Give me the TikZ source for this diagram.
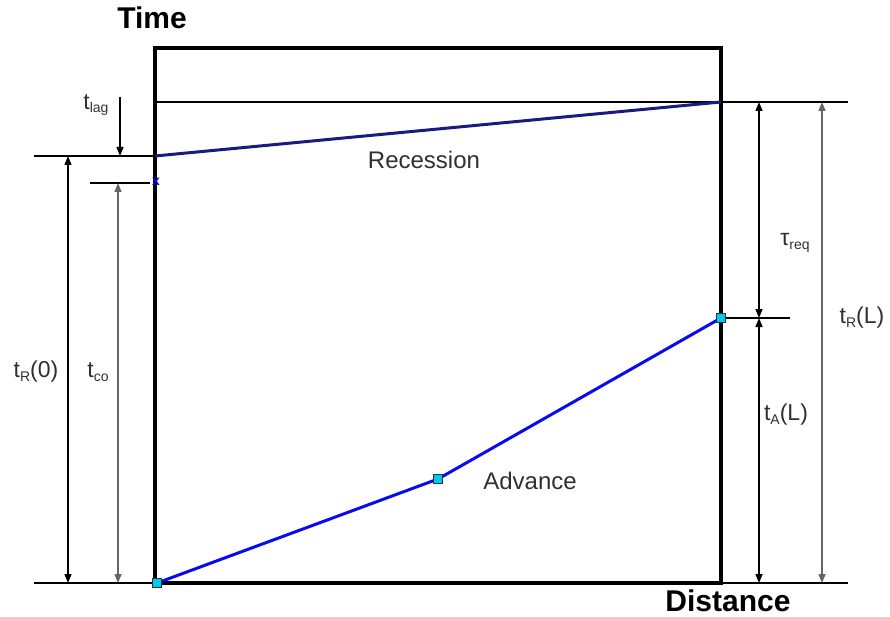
\documentclass[tikz,border=0pt]{standalone}
\usepackage{fontspec}
\setmainfont{Liberation Sans}
\usetikzlibrary{arrows.meta}
\definecolor{navyline}{HTML}{1A1A80}
\definecolor{advblue}{HTML}{0A0AF0}
\definecolor{mark}{HTML}{00C8F0}
\definecolor{lab}{HTML}{303030}
\newcommand\lsub[2]{#1\raisebox{-0.3ex}{\fontsize{14}{14}\selectfont #2}}
\begin{document}
\begin{tikzpicture}[x=1pt,y=-1pt,
  tip/.style={-{Triangle[length=9pt,width=7pt]}},
  dim/.style={line width=1.4pt,{Triangle[length=9pt,width=7pt]}-{Triangle[length=9pt,width=7pt]}},
  dimg/.style={dim,draw=black!60},
  ref/.style={line width=1.2pt},
  lbl/.style={font=\fontsize{23}{23}\selectfont,text=lab,inner sep=0pt},
  axis/.style={font=\fontsize{30}{30}\selectfont\bfseries,inner sep=0pt},
  sq/.style={draw=black!80,fill=mark,line width=0.9pt,minimum size=9pt,inner sep=0pt,rectangle}]
\useasboundingbox (0,0) rectangle (890,617);
% frame
\coordinate (TL) at (155,48);
\coordinate (BR) at (721,583);
\draw[line width=4pt] (TL) rectangle (BR);
% key points
\coordinate (rtop) at (721,102);
\coordinate (r0) at (155,156);
\coordinate (aLc) at (721,318);
\coordinate (a0c) at (157,583);
\coordinate (a1c) at (438,479);
% reference lines
\coordinate (topR) at (848,102);
\coordinate (topL) at (155,102);
\draw[ref] (topL) -- (topR);
\coordinate (lagL) at (34,156);
\draw[ref] (lagL) -- (r0);
\coordinate (coL) at (90,183);
\coordinate (coR) at (150,183);
\draw[ref] (coL) -- (coR);
\coordinate (botL) at (34,583);
\draw[ref] (botL) -- (a0c);
\coordinate (botR) at (848,583);
\draw[ref] (BR) -- (botR);
\coordinate (midR) at (790,318);
\draw[ref] (aLc) -- (midR);
% recession and advance
\draw[navyline,line width=3pt] (r0) -- (rtop);
\draw[advblue,line width=3pt] (a0c) -- (a1c) -- (aLc);
\node[sq] (a0) at (a0c) {};
\node[sq] (a1) at (a1c) {};
\node[sq] (aL) at (aLc) {};
\node[text=blue,font=\fontsize{14}{14}\selectfont\bfseries,inner sep=0pt] (cox) at (156,182) {x};
% dimension arrows
\coordinate (lagA) at (120,97);
\coordinate (lagB) at (120,156);
\draw[line width=1.4pt,tip] (lagA) -- (lagB);
\draw[dim] (68,156) coordinate (tr0a) -- (68,583) coordinate (tr0b);
\draw[dimg] (118,183) coordinate (tcoa) -- (118,583) coordinate (tcob);
\draw[dim] (759,102) coordinate (treqa) -- (759,318) coordinate (treqb);
\draw[dim] (759,318) coordinate (taa) -- (759,583) coordinate (tab);
\draw[dimg] (822,102) coordinate (trla) -- (822,583) coordinate (trlb);
% labels
\node[lbl] (llag) at (96,105) {\lsub{t}{lag}};
\node[lbl] (lr0) at (36,372) {\lsub{t}{R}(0)};
\node[lbl] (lco) at (98,372) {\lsub{t}{co}};
\node[lbl] (lreq) at (795,243) {\lsub{τ}{req}};
\node[lbl] (lrl) at (862,318) {\lsub{t}{R}(L)};
\node[lbl] (lal) at (786,415) {\lsub{t}{A}(L)};
\node[lbl,font=\fontsize{24}{24}\selectfont] (rec) at (424,160) {Recession};
\node[lbl,font=\fontsize{24}{24}\selectfont] (adv) at (530,481) {Advance};
\node[axis] (time) at (152,18) {Time};
\node[axis] (dist) at (728,601) {Distance};
\end{tikzpicture}
\end{document}
